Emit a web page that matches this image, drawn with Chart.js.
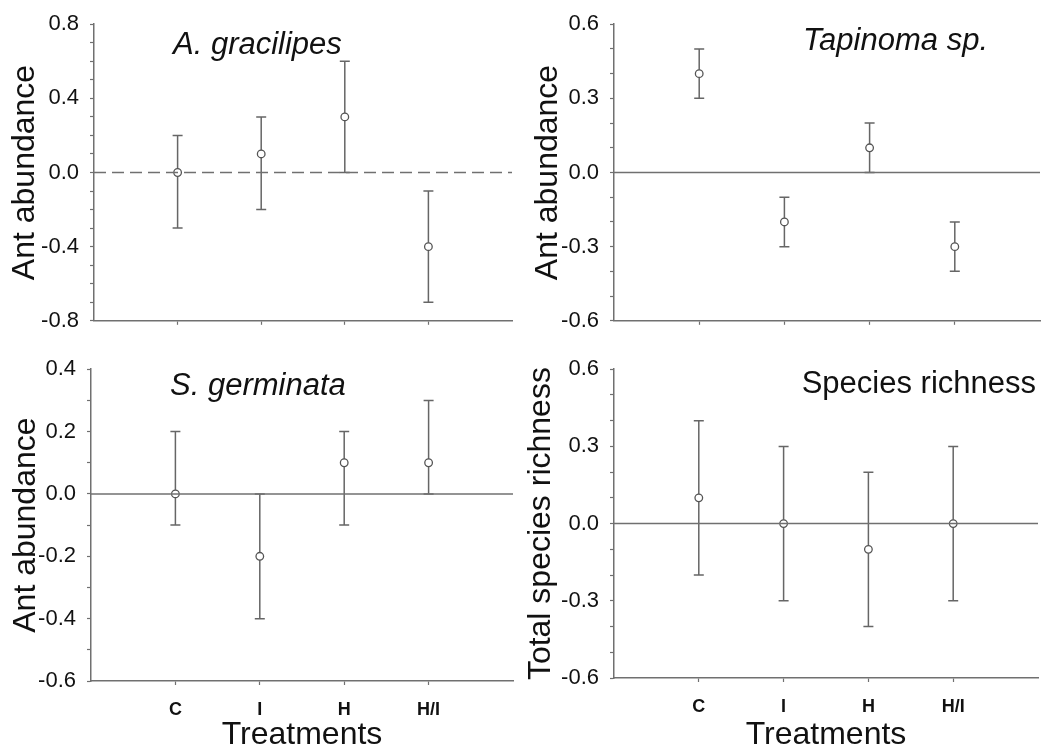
<!DOCTYPE html>
<html>
<head>
<meta charset="utf-8">
<script src="https://cdn.jsdelivr.net/npm/chart.js@4/dist/chart.umd.min.js"></script>
<style>
  html, body { margin: 0; padding: 0; background: #fff; }
  #wrap { position: relative; width: 1052px; height: 751px; }
  .panel { position: absolute; }
</style>
</head>
<body>
<div id="wrap">
  <div class="panel" style="left:0;top:0;width:520px;height:345px"><canvas id="p1"></canvas></div>
  <div class="panel" style="left:520px;top:0;width:532px;height:345px"><canvas id="p2"></canvas></div>
  <div class="panel" style="left:0;top:345px;width:520px;height:406px"><canvas id="p3"></canvas></div>
  <div class="panel" style="left:520px;top:345px;width:532px;height:406px"><canvas id="p4"></canvas></div>
</div>
<script>
// treatments on the x axis
const treatments = ['C', 'I', 'H', 'H/I'];

// A. gracilipes
const gracilipesMean = [0.0, 0.1, 0.3, -0.4];
const gracilipesLow  = [-0.3, -0.2, 0.0, -0.7];
const gracilipesHigh = [0.2, 0.3, 0.6, -0.1];

// Tapinoma sp.
const tapinomaMean = [0.4, -0.2, 0.1, -0.3];
const tapinomaLow  = [0.3, -0.3, 0.0, -0.4];
const tapinomaHigh = [0.5, -0.1, 0.2, -0.2];

// S. germinata
const germinataMean = [0.0, -0.2, 0.1, 0.1];
const germinataLow  = [-0.1, -0.4, -0.1, 0.0];
const germinataHigh = [0.2, 0.0, 0.2, 0.3];

// total species richness
const richnessMean = [0.1, 0.0, -0.1, 0.0];
const richnessLow  = [-0.2, -0.3, -0.4, -0.3];
const richnessHigh = [0.4, 0.3, 0.2, 0.3];

const FONT = '"Liberation Sans", Arial, sans-serif';
const AXIS_GREY = '#707070';
const BAR_GREY = '#666666';

// vertical error bars with caps, drawn under the points
const errorBars = {
  id: 'errorBars',
  beforeDatasetsDraw(chart) {
    const ds = chart.data.datasets[1];
    const ctx = chart.ctx, xs = chart.scales.x, ys = chart.scales.y;
    ctx.save();
    ctx.strokeStyle = BAR_GREY;
    ctx.lineWidth = 1.5;
    for (let i = 0; i < ds.data.length; i++) {
      const px = xs.getPixelForValue(ds.data[i].x);
      const lo = ys.getPixelForValue(ds.errLow[i]);
      const hi = ys.getPixelForValue(ds.errHigh[i]);
      ctx.beginPath();
      ctx.moveTo(px, lo); ctx.lineTo(px, hi);
      ctx.moveTo(px - 5, lo); ctx.lineTo(px + 5, lo);
      ctx.moveTo(px - 5, hi); ctx.lineTo(px + 5, hi);
      ctx.stroke();
    }
    ctx.restore();
  }
};

// panel name written inside the plot
const panelTitle = {
  id: 'panelTitle',
  afterDraw(chart, args, opts) {
    const a = chart.chartArea, ctx = chart.ctx;
    ctx.save();
    ctx.font = (opts.italic ? 'italic ' : '') + '31px ' + FONT;
    ctx.fillStyle = '#111';
    ctx.textBaseline = 'middle';
    ctx.textAlign = opts.align;
    const x = opts.align === 'left' ? a.left + opts.dx : a.right - opts.dx;
    ctx.fillText(opts.text, x, a.top + opts.dy);
    ctx.restore();
  }
};

function makePanel(id, cfg) {
  const W = cfg.w, H = cfg.h;
  const points = cfg.mean.map((v, i) => ({ x: i + 1, y: v }));
  new Chart(document.getElementById(id), {
    type: 'scatter',
    data: {
      datasets: [{
        type: 'line',
        data: [{ x: 0, y: 0 }, { x: treatments.length + 1, y: 0 }],
        borderColor: AXIS_GREY,
        borderWidth: 1.5,
        borderDash: cfg.dashed ? [12, 6] : [],
        pointRadius: 0,
        fill: false
      }, {
        data: points,
        errLow: cfg.low,
        errHigh: cfg.high,
        pointRadius: 3.8,
        pointBackgroundColor: '#fff',
        pointBorderColor: '#555',
        pointBorderWidth: 1.3
      }]
    },
    options: {
      responsive: true,
      maintainAspectRatio: false,
      animation: false,
      events: [],
      layout: { padding: { left: 0, top: cfg.top, right: W - cfg.right, bottom: 0 } },
      plugins: {
        legend: { display: false },
        tooltip: { enabled: false },
        panelTitle: cfg.title
      },
      scales: {
        x: {
          type: 'linear',
          min: 0,
          max: treatments.length + 1,
          afterBuildTicks: s => { s.ticks = treatments.map((t, i) => ({ value: i + 1 })); },
          afterFit: s => { s.height = H - cfg.bottom; },
          border: { color: AXIS_GREY, width: 1.5 },
          grid: { drawOnChartArea: false, tickLength: 4, tickColor: AXIS_GREY, tickWidth: 1.2 },
          ticks: {
            display: cfg.xLabels,
            autoSkip: false,
            maxRotation: 0,
            padding: 14,
            color: '#111',
            font: { family: FONT, size: 18, weight: 'bold' },
            callback: v => treatments[Math.round(v) - 1]
          },
          title: {
            display: cfg.xLabels,
            text: 'Treatments',
            color: '#111',
            padding: { top: 0, bottom: 0 },
            font: { family: FONT, size: 32, lineHeight: 1 }
          }
        },
        y: {
          min: cfg.min,
          max: cfg.max,
          afterFit: s => { s.width = cfg.left; },
          border: { color: AXIS_GREY, width: 1.5 },
          grid: { drawOnChartArea: false, tickLength: 4, tickColor: AXIS_GREY, tickWidth: 1.2 },
          ticks: {
            stepSize: 0.1,
            autoSkip: false,
            padding: 11,
            color: '#111',
            font: { family: FONT, size: 22 },
            callback: v => {
              const k = Math.round(v * 10);
              return k % cfg.labelEvery === 0 ? (k / 10).toFixed(1) : '';
            }
          },
          title: {
            display: true,
            text: cfg.yTitle,
            color: '#111',
            padding: { top: cfg.yTitlePad, bottom: 0 },
            font: { family: FONT, size: 32 }
          }
        }
      }
    },
    plugins: [errorBars, panelTitle]
  });
}

makePanel('p1', {
  w: 520, h: 345, left: 94, top: 22, right: 512, bottom: 333,
  min: -0.8, max: 0.8, labelEvery: 4, dashed: true, xLabels: false,
  yTitle: 'Ant abundance', yTitlePad: 6,
  mean: gracilipesMean, low: gracilipesLow, high: gracilipesHigh,
  title: { text: 'A. gracilipes', italic: true, align: 'left', dx: 79, dy: 21 }
});

makePanel('p2', {
  w: 532, h: 345, left: 94, top: 21, right: 520, bottom: 333,
  min: -0.6, max: 0.6, labelEvery: 3, dashed: false, xLabels: false,
  yTitle: 'Ant abundance', yTitlePad: 9,
  mean: tapinomaMean, low: tapinomaLow, high: tapinomaHigh,
  title: { text: 'Tapinoma sp.', italic: true, align: 'right', dx: 52, dy: 17 }
});

makePanel('p3', {
  w: 520, h: 406, left: 91, top: 23, right: 513, bottom: 336,
  min: -0.6, max: 0.4, labelEvery: 2, dashed: false, xLabels: true,
  yTitle: 'Ant abundance', yTitlePad: 7,
  mean: germinataMean, low: germinataLow, high: germinataHigh,
  title: { text: 'S. germinata', italic: true, align: 'left', dx: 79, dy: 17 }
});

makePanel('p4', {
  w: 532, h: 406, left: 94, top: 23, right: 518, bottom: 333,
  min: -0.6, max: 0.6, labelEvery: 3, dashed: false, xLabels: true,
  yTitle: 'Total species richness', yTitlePad: 2,
  mean: richnessMean, low: richnessLow, high: richnessHigh,
  title: { text: 'Species richness', italic: false, align: 'right', dx: 2, dy: 15 }
});
</script>
</body>
</html>
